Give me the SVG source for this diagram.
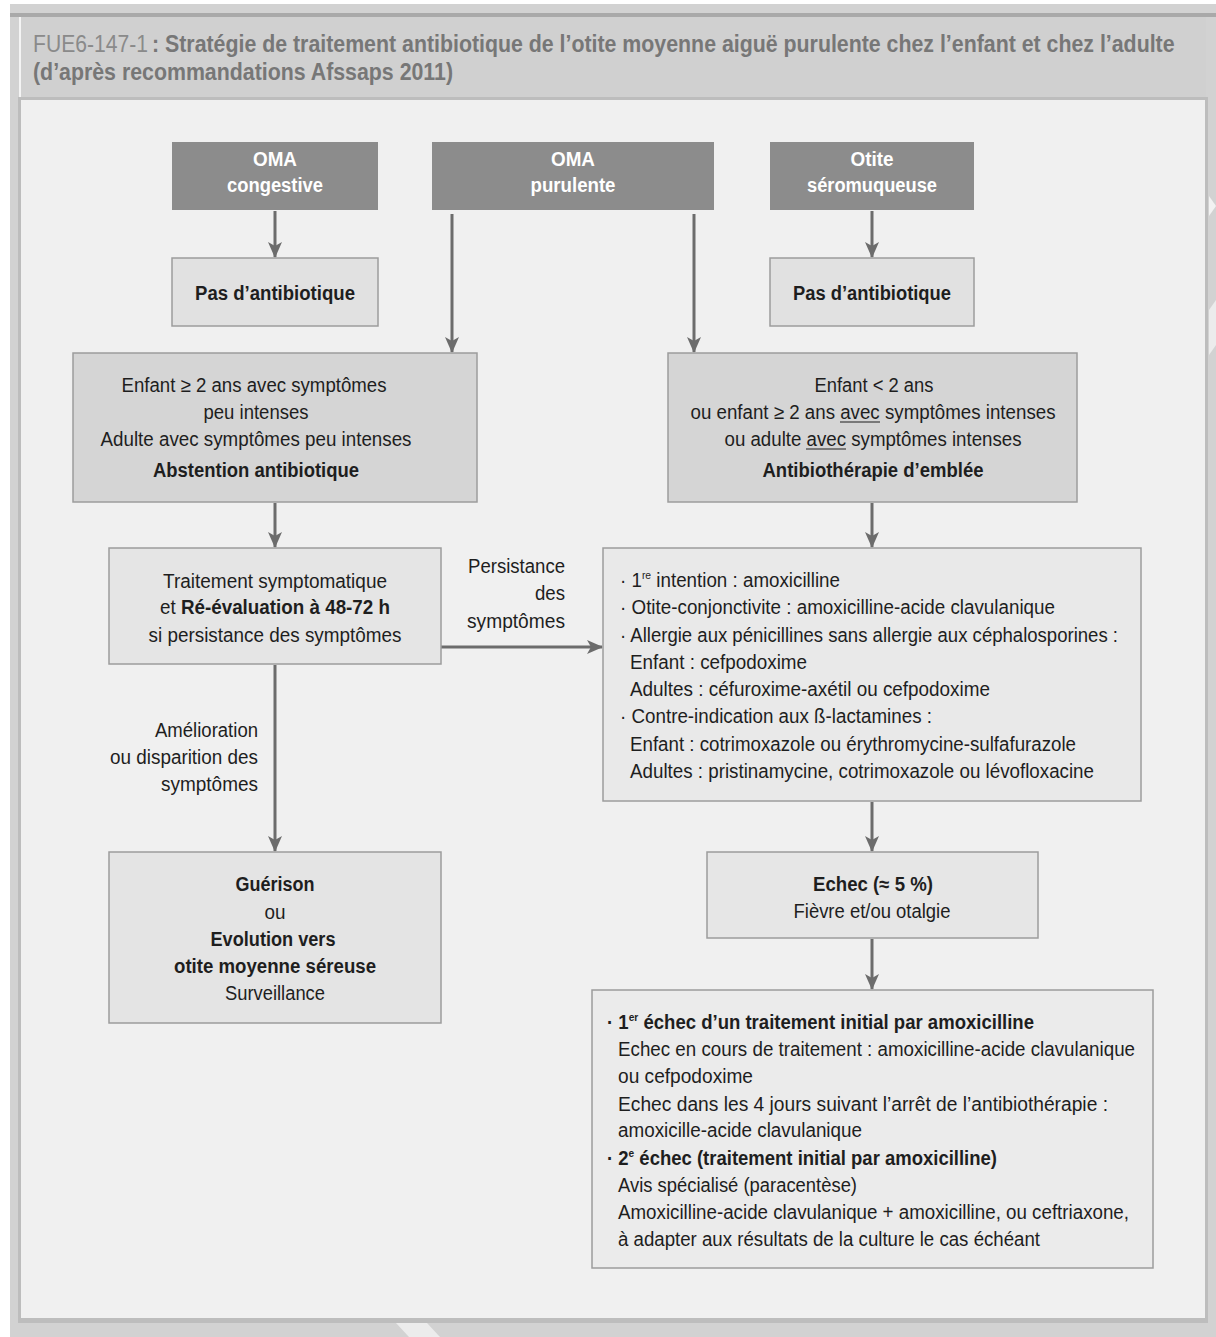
<svg xmlns="http://www.w3.org/2000/svg" width="1216" height="1337" viewBox="0 0 1216 1337">
<style>
text{font-family:"Liberation Sans",Arial,sans-serif;font-size:20px;fill:#1e1e1e}
.b{font-weight:bold}
.hd{font-weight:bold;fill:#ffffff;text-anchor:middle}
.c{text-anchor:middle}
.r{text-anchor:end}
.dark{fill:#8c8c8c}
.box{stroke:#9c9c9c;stroke-width:1.5}
.conn{stroke:#6c6c6c;stroke-width:3;fill:none;marker-end:url(#ah)}
.sup{font-size:11px}
.ul{stroke:#1e1e1e;stroke-width:1.2}
.tt{font-size:23px;fill:#777777}
</style>
<defs>
<marker id="ah" viewBox="0 0 16 16" refX="15" refY="8" markerWidth="16" markerHeight="16" markerUnits="userSpaceOnUse" orient="auto">
<path d="M0,1 L16,8 L0,15 L4,8 z" fill="#6c6c6c"/>
</marker>
</defs>
<!-- frame -->
<rect x="0" y="0" width="1216" height="1337" fill="#ffffff"/>
<rect x="10" y="4" width="1206" height="1333" fill="#d2d2d2"/>
<rect x="10" y="13" width="1206" height="4" fill="#a9a9a9"/>
<rect x="20" y="17" width="1186" height="80" fill="#d0d0d0"/>
<rect x="19" y="17" width="2" height="80" fill="#f4f4f4"/>
<rect x="18" y="97" width="1190" height="1226" fill="#bdbdbd"/>
<rect x="21" y="100" width="1184" height="1218" fill="#f0f0f0"/>
<polygon points="396,1323 427,1323 440,1337 409,1337" fill="#ececec"/>
<polygon points="1209,196 1216,206 1209,216" fill="#f2f2f2"/>
<polygon points="1209,310 1216,300 1216,345 1209,355" fill="#ececec"/>
<!-- title -->
<g id="title">
<text x="33" y="52" class="tt" style="fill:#8a8a8a" textLength="115" lengthAdjust="spacingAndGlyphs">FUE6-147-1</text>
<text transform="translate(152,52) scale(0.85,1)" x="0" y="0" class="b tt" textLength="1203" lengthAdjust="spacingAndGlyphs">: Stratégie de traitement antibiotique de l’otite moyenne aiguë purulente chez l’enfant et chez l’adulte</text>
<text x="33" y="80" class="b tt" textLength="420" lengthAdjust="spacingAndGlyphs">(d’après recommandations Afssaps 2011)</text>
</g>
<!-- connectors -->
<g id="connectors">
<line class="conn" x1="275" y1="211" x2="275" y2="257"/>
<line class="conn" x1="872" y1="211" x2="872" y2="257"/>
<line class="conn" x1="452" y1="214" x2="452" y2="352"/>
<line class="conn" x1="694" y1="214" x2="694" y2="352"/>
<line class="conn" x1="275" y1="503" x2="275" y2="547"/>
<line class="conn" x1="872" y1="503" x2="872" y2="547"/>
<line class="conn" x1="441" y1="647" x2="602" y2="647"/>
<line class="conn" x1="275" y1="665" x2="275" y2="851"/>
<line class="conn" x1="872" y1="802" x2="872" y2="851"/>
<line class="conn" x1="872" y1="939" x2="872" y2="989"/>
<text x="565" y="573" class="r" textLength="97" lengthAdjust="spacingAndGlyphs">Persistance</text>
<text x="565" y="600" class="r" textLength="30" lengthAdjust="spacingAndGlyphs">des</text>
<text x="565" y="628" class="r" textLength="98" lengthAdjust="spacingAndGlyphs">symptômes</text>
<text x="258" y="737" class="r" textLength="103" lengthAdjust="spacingAndGlyphs">Amélioration</text>
<text x="258" y="764" class="r" textLength="148" lengthAdjust="spacingAndGlyphs">ou disparition des</text>
<text x="258" y="791" class="r" textLength="97" lengthAdjust="spacingAndGlyphs">symptômes</text>
</g>
<!-- nodes -->
<g id="oma-congestive">
<rect class="dark" x="172" y="142" width="206" height="68"/>
<text x="275" y="166" class="hd" textLength="44" lengthAdjust="spacingAndGlyphs">OMA</text>
<text x="275" y="192" class="hd" textLength="96" lengthAdjust="spacingAndGlyphs">congestive</text>
</g>
<g id="oma-purulente">
<rect class="dark" x="432" y="142" width="282" height="68"/>
<text x="573" y="166" class="hd" textLength="44" lengthAdjust="spacingAndGlyphs">OMA</text>
<text x="573" y="192" class="hd" textLength="85" lengthAdjust="spacingAndGlyphs">purulente</text>
</g>
<g id="otite-seromuqueuse">
<rect class="dark" x="770" y="142" width="204" height="68"/>
<text x="872" y="166" class="hd" textLength="43" lengthAdjust="spacingAndGlyphs">Otite</text>
<text x="872" y="192" class="hd" textLength="130" lengthAdjust="spacingAndGlyphs">séromuqueuse</text>
</g>
<g id="pas-antibio-left">
<rect class="box" x="172" y="258" width="206" height="68" fill="#e1e1e1"/>
<text x="275" y="300" class="c b" textLength="160" lengthAdjust="spacingAndGlyphs">Pas d’antibiotique</text>
</g>
<g id="pas-antibio-right">
<rect class="box" x="770" y="258" width="204" height="68" fill="#e1e1e1"/>
<text x="872" y="300" class="c b" textLength="158" lengthAdjust="spacingAndGlyphs">Pas d’antibiotique</text>
</g>
<g id="abstention">
<rect class="box" x="73" y="353" width="404" height="149" fill="#d5d5d5"/>
<text x="254" y="392" class="c" textLength="265" lengthAdjust="spacingAndGlyphs">Enfant ≥ 2 ans avec symptômes</text>
<text x="256" y="419" class="c" textLength="105" lengthAdjust="spacingAndGlyphs">peu intenses</text>
<text x="256" y="446" class="c" textLength="311" lengthAdjust="spacingAndGlyphs">Adulte avec symptômes peu intenses</text>
<text x="256" y="477" class="c b" textLength="206" lengthAdjust="spacingAndGlyphs">Abstention antibiotique</text>
</g>
<g id="antibiotherapie">
<rect class="box" x="668" y="353" width="409" height="149" fill="#d5d5d5"/>
<text x="874" y="392" class="c" textLength="119" lengthAdjust="spacingAndGlyphs">Enfant &lt; 2 ans</text>
<text x="873" y="419" class="c" textLength="365" lengthAdjust="spacingAndGlyphs">ou enfant ≥ 2 ans avec symptômes intenses</text>
<line class="ul" x1="840" y1="422" x2="880" y2="422"/>
<text x="873" y="446" class="c" textLength="297" lengthAdjust="spacingAndGlyphs">ou adulte avec symptômes intenses</text>
<line class="ul" x1="806" y1="449" x2="846" y2="449"/>
<text x="873" y="477" class="c b" textLength="221" lengthAdjust="spacingAndGlyphs">Antibiothérapie d’emblée</text>
</g>
<g id="traitement">
<rect class="box" x="109" y="548" width="332" height="116" fill="#e5e5e5"/>
<text x="275" y="588" class="c" textLength="224" lengthAdjust="spacingAndGlyphs">Traitement symptomatique</text>
<text x="275" y="614" class="c" textLength="230" lengthAdjust="spacingAndGlyphs">et <tspan class="b">Ré-évaluation à 48-72 h</tspan></text>
<text x="275" y="642" class="c" textLength="253" lengthAdjust="spacingAndGlyphs">si persistance des symptômes</text>
</g>
<g id="traitements-ab">
<rect class="box" x="603" y="548" width="538" height="253" fill="#e9e9e9"/>
<text x="620" y="587" textLength="220" lengthAdjust="spacingAndGlyphs">· 1<tspan class="sup" dy="-8">re</tspan><tspan dy="8"> intention : amoxicilline</tspan></text>
<text x="620" y="614" textLength="435" lengthAdjust="spacingAndGlyphs">· Otite-conjonctivite : amoxicilline-acide clavulanique</text>
<text x="620" y="642" textLength="498" lengthAdjust="spacingAndGlyphs">· Allergie aux pénicillines sans allergie aux céphalosporines :</text>
<text x="630" y="669" textLength="177" lengthAdjust="spacingAndGlyphs">Enfant : cefpodoxime</text>
<text x="630" y="696" textLength="360" lengthAdjust="spacingAndGlyphs">Adultes : céfuroxime-axétil ou cefpodoxime</text>
<text x="620" y="723" textLength="312" lengthAdjust="spacingAndGlyphs">· Contre-indication aux ß-lactamines :</text>
<text x="630" y="751" textLength="446" lengthAdjust="spacingAndGlyphs">Enfant : cotrimoxazole ou érythromycine-sulfafurazole</text>
<text x="630" y="778" textLength="464" lengthAdjust="spacingAndGlyphs">Adultes : pristinamycine, cotrimoxazole ou lévofloxacine</text>
</g>
<g id="guerison">
<rect class="box" x="109" y="852" width="332" height="171" fill="#e4e4e4"/>
<text x="275" y="891" class="c b" textLength="79" lengthAdjust="spacingAndGlyphs">Guérison</text>
<text x="275" y="919" class="c" textLength="21" lengthAdjust="spacingAndGlyphs">ou</text>
<text x="273" y="946" class="c b" textLength="125" lengthAdjust="spacingAndGlyphs">Evolution vers</text>
<text x="275" y="973" class="c b" textLength="202" lengthAdjust="spacingAndGlyphs">otite moyenne séreuse</text>
<text x="275" y="1000" class="c" textLength="100" lengthAdjust="spacingAndGlyphs">Surveillance</text>
</g>
<g id="echec">
<rect class="box" x="707" y="852" width="331" height="86" fill="#e6e6e6"/>
<text x="873" y="891" class="c b" textLength="120" lengthAdjust="spacingAndGlyphs">Echec (≈ 5 %)</text>
<text x="872" y="918" class="c" textLength="157" lengthAdjust="spacingAndGlyphs">Fièvre et/ou otalgie</text>
</g>
<g id="echecs-suite">
<rect class="box" x="592" y="990" width="561" height="278" fill="#ebebeb"/>
<text x="607" y="1029" class="b" textLength="427" lengthAdjust="spacingAndGlyphs">· 1<tspan class="sup" dy="-8">er</tspan><tspan dy="8"> échec d’un traitement initial par amoxicilline</tspan></text>
<text x="618" y="1056" textLength="517" lengthAdjust="spacingAndGlyphs">Echec en cours de traitement : amoxicilline-acide clavulanique</text>
<text x="618" y="1083" textLength="135" lengthAdjust="spacingAndGlyphs">ou cefpodoxime</text>
<text x="618" y="1111" textLength="490" lengthAdjust="spacingAndGlyphs">Echec dans les 4 jours suivant l’arrêt de l’antibiothérapie :</text>
<text x="618" y="1137" textLength="244" lengthAdjust="spacingAndGlyphs">amoxicille-acide clavulanique</text>
<text x="607" y="1165" class="b" textLength="390" lengthAdjust="spacingAndGlyphs">· 2<tspan class="sup" dy="-8">e</tspan><tspan dy="8"> échec (traitement initial par amoxicilline)</tspan></text>
<text x="618" y="1192" textLength="239" lengthAdjust="spacingAndGlyphs">Avis spécialisé (paracentèse)</text>
<text x="618" y="1219" textLength="511" lengthAdjust="spacingAndGlyphs">Amoxicilline-acide clavulanique + amoxicilline, ou ceftriaxone,</text>
<text x="618" y="1246" textLength="422" lengthAdjust="spacingAndGlyphs">à adapter aux résultats de la culture le cas échéant</text>
</g>
</svg>
